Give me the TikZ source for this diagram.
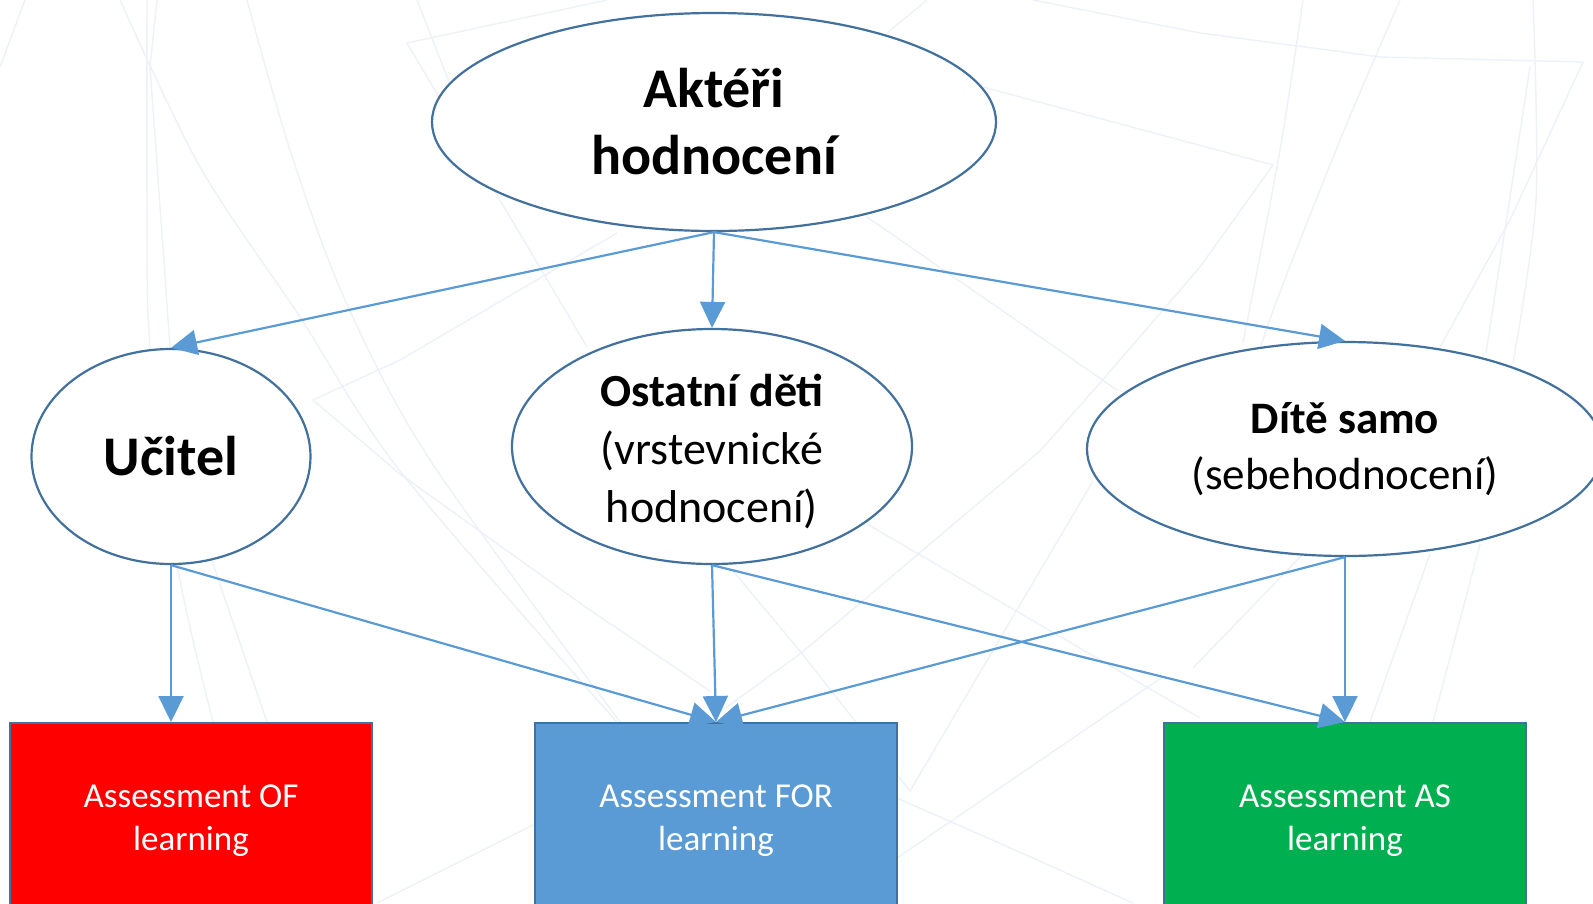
\documentclass[tikz,border=0pt]{standalone}
\usepackage{fontspec}
\setmainfont{Carlito}
\usetikzlibrary{arrows.meta,shapes.geometric}
\definecolor{edgeblue}{HTML}{41719C}
\definecolor{arrowblue}{HTML}{5B9BD5}
\definecolor{boxred}{HTML}{FF0000}
\definecolor{boxgreen}{HTML}{00B050}
\definecolor{bgline}{HTML}{EDF1F8}
\begin{document}
\begin{tikzpicture}[x=1pt,y=-1pt,
  oval/.style={ellipse, draw=edgeblue, line width=2.2pt, fill=white, inner sep=0pt, align=center},
  abox/.style={rectangle, draw=edgeblue, line width=1.5pt, text=white,
    font=\fontsize{35}{43}\selectfont, align=center, minimum width=362pt,
    minimum height=196pt, anchor=north, inner sep=0pt},
  conn/.style={draw=arrowblue, line width=2.2pt, -{Triangle[length=26pt,width=25pt]}},
  bg/.style={draw=bgline, line width=1.4pt, line join=round}]
\useasboundingbox (0,0) rectangle (1593,903);
\fill[white] (0,0) rectangle (1593,903);

% faint background lines
\draw[bg] (0,67) -- (25,0);
\draw[bg] plot[smooth] coordinates {(120,0) (200,167) (300,317) (400,471) (617,722)};
\draw[bg] plot[smooth] coordinates {(247,0) (290,150) (345,300) (430,460) (620,722)};
\draw[bg] plot[smooth] coordinates {(147,0) (147,200) (150,347) (177,564) (213,722)};
\draw[bg] (157,0) -- (150,67) -- (170,347) -- (213,564) -- (267,722);
\draw[bg] (617,233) -- (400,360) -- (313,400) -- (400,474) -- (587,608) -- (710,691);
\draw[bg] (607,0) -- (407,43) -- (587,347);
\draw[bg] (417,0) -- (460,110);
\draw[bg] (887,33) -- (927,0);
\draw[bg] (983,87) -- (1273,165) -- (1200,267) -- (1100,383) -- (1040,451) -- (800,654) -- (717,714);
\draw[bg] (733,571) -- (800,651) -- (910,791) -- (1093,481);
\draw[bg] (867,217) -- (1117,390);
\draw[bg] (867,524) -- (1200,718);
\draw[bg] plot[smooth] coordinates {(1303,0) (1280,150) (1243,343)};
\draw[bg] plot[smooth] coordinates {(1400,0) (1343,133) (1277,300) (1243,400)};
\draw[bg] (1033,0) -- (1200,33) -- (1380,57) -- (1583,62) -- (1510,220) -- (1440,347);
\draw[bg] plot[smooth] coordinates {(1533,0) (1536,200) (1513,363)};
\draw[bg] (1530,67) -- (1486,353);
\draw[bg] (1370,722) -- (1430,554);
\draw[bg] (1433,722) -- (1480,544);
\draw[bg] (1193,668) -- (1303,554);
\draw[bg] (897,798) -- (1033,858) -- (1133,903);
\draw[bg] (897,858) -- (1164,676);
\draw[bg] (377,903) -- (535,824);

% ellipses
\node[oval, minimum width=564pt, minimum height=218pt,
  font=\fontsize{56}{67}\selectfont\bfseries] (akt) at (714,122) {Aktéři\\hodnocení};
\node[oval, minimum width=279pt, minimum height=215pt,
  font=\fontsize{56}{67}\selectfont\bfseries] (uc) at (171,456.5) {Učitel};
\node[oval, minimum width=400pt, minimum height=235pt] (ost) at (712,446.5) {};
\node[align=center, inner sep=0pt, font=\fontsize{46}{58}\selectfont, yshift=-5pt]
  (osttext) at (ost.center) {\textbf{Ostatní děti}\\(vrstevnické\\hodnocení)};
\node[oval, minimum width=516pt, minimum height=214pt,
  font=\fontsize{45}{56}\selectfont] (dite) at (1345,449) {\textbf{Dítě samo}\\(sebehodnocení)};

% boxes
\node[abox, fill=boxred] (of) at (191,722) {Assessment OF\\learning};
\node[abox, fill=arrowblue] (for) at (716,722) {Assessment FOR\\learning};
\node[abox, fill=boxgreen] (as) at (1345,722) {Assessment AS\\learning};

% connectors
\draw[conn] (akt.south) -- (uc.north);
\draw[conn] (akt.south) -- (ost.north);
\draw[conn] (akt.south) -- (dite.north);
\draw[conn] (uc.south) -- (uc.south |- of.north);
\draw[conn] (uc.south) -- (for.north);
\draw[conn] (ost.south) -- (for.north);
\draw[conn] (ost.south) -- (as.north);
\draw[conn] (dite.south) -- (for.north);
\draw[conn] (dite.south) -- (as.north);
\end{tikzpicture}
\end{document}
